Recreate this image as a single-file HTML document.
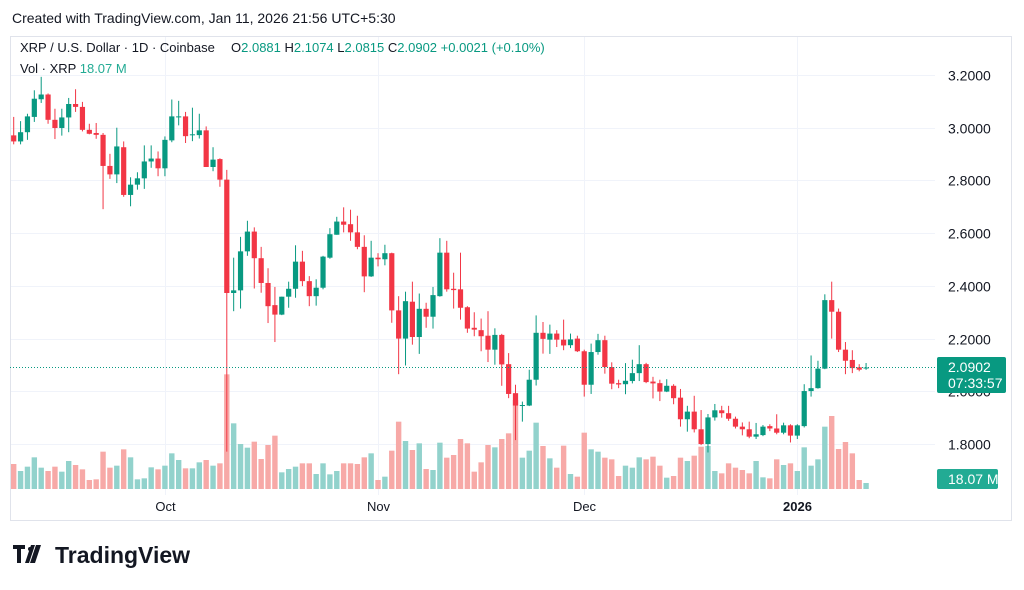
<!DOCTYPE html>
<html><head><meta charset="utf-8"><style>
body{margin:0;background:#fff;width:1024px;height:590px;overflow:hidden;font-family:"Liberation Sans",sans-serif;}
svg{display:block}
</style></head><body>
<svg id="chart" width="1024" height="590" xmlns="http://www.w3.org/2000/svg">
<rect x="0" y="0" width="1024" height="590" fill="#fff"/>
<text x="12" y="23" font-size="14" fill="#131722">Created with TradingView.com, Jan 11, 2026 21:56 UTC+5:30</text>
<rect x="10.5" y="36.5" width="1001" height="484" fill="none" stroke="#e0e3eb"/>
<g id="grid"></g>
<g id="vol"></g>
<g id="candles"></g>
<line x1="10" y1="367.5" x2="935" y2="367.5" stroke="#089981" stroke-dasharray="1,2"/>
<g id="axis"></g>
<g font-size="13">
<text x="20" y="52" fill="#131722">XRP / U.S. Dollar · 1D · Coinbase</text>
<text x="231" y="52" fill="#131722">O<tspan fill="#089981">2.0881</tspan>  H<tspan fill="#089981">2.1074</tspan>  L<tspan fill="#089981">2.0815</tspan>  C<tspan fill="#089981">2.0902</tspan>  <tspan fill="#089981">+0.0021 (+0.10%)</tspan></text>
<text x="20" y="73" fill="#131722">Vol · XRP  <tspan fill="#22ab94">18.07 M</tspan></text>
</g>
<rect x="937" y="357" width="69" height="36" rx="2" fill="#089981"/>
<text x="948" y="372" font-size="14" fill="#fff">2.0902</text>
<text x="948" y="388" font-size="14" fill="#fff">07:33:57</text>
<rect x="937" y="469" width="61" height="20" rx="2" fill="#22ab94"/>
<text x="948" y="484" font-size="14" fill="#fff">18.07 M</text>
<g>
<path d="M13 545h12v4h-4v14h-4v-14h-4z M31 545h4l-6 18h-4z" fill="#131722"/>
<circle cx="30" cy="549" r="2" fill="#131722"/>
<path d="M36 545h5l-6 18h-5z" fill="#131722"/>
<text x="55" y="563" font-size="23" font-weight="bold" fill="#131722">TradingView</text>
</g>
</svg>
<script>
const opens=[2.971,2.948,2.983,3.041,3.108,3.126,3.030,2.999,3.039,3.090,3.079,2.992,2.980,2.973,2.855,2.823,2.926,2.745,2.784,2.808,2.872,2.883,2.846,2.952,3.041,3.043,2.972,2.972,2.990,2.851,2.881,2.803,2.373,2.383,2.531,2.606,2.505,2.411,2.327,2.291,2.359,2.389,2.492,2.418,2.361,2.393,2.507,2.594,2.644,2.634,2.603,2.548,2.436,2.507,2.501,2.524,2.307,2.200,2.340,2.206,2.313,2.283,2.361,2.526,2.389,2.387,2.319,2.241,2.232,2.211,2.158,2.214,2.103,1.993,1.945,1.946,2.044,2.222,2.196,2.219,2.196,2.175,2.200,2.152,2.025,2.149,2.194,2.092,2.031,2.027,2.039,2.069,2.103,2.037,2.031,1.999,2.021,1.976,1.894,1.923,1.856,1.800,1.901,1.928,1.917,1.896,1.866,1.856,1.828,1.834,1.868,1.859,1.843,1.871,1.832,1.868,2.001,2.012,2.086,2.346,2.302,2.158,2.119,2.091,2.0881];
const closes=[2.948,2.983,3.043,3.110,3.126,3.030,2.999,3.039,3.090,3.079,2.992,2.977,2.973,2.855,2.823,2.929,2.745,2.784,2.808,2.872,2.883,2.846,2.954,3.043,3.043,2.968,2.975,2.990,2.851,2.879,2.803,2.373,2.383,2.531,2.606,2.505,2.411,2.323,2.291,2.359,2.389,2.492,2.418,2.361,2.393,2.511,2.596,2.644,2.632,2.603,2.548,2.436,2.507,2.501,2.524,2.307,2.200,2.342,2.206,2.313,2.283,2.365,2.526,2.387,2.384,2.317,2.238,2.234,2.209,2.158,2.214,2.102,1.990,1.946,1.948,2.044,2.222,2.199,2.219,2.196,2.174,2.197,2.152,2.025,2.149,2.194,2.092,2.029,2.026,2.040,2.069,2.103,2.035,2.030,1.999,2.021,1.974,1.894,1.923,1.856,1.800,1.901,1.928,1.917,1.896,1.866,1.856,1.828,1.837,1.866,1.859,1.843,1.871,1.832,1.871,2.001,2.012,2.086,2.346,2.302,2.158,2.116,2.088,2.082,2.0902];
const highs=[3.041,3.025,3.053,3.142,3.193,3.130,3.072,3.072,3.113,3.146,3.098,3.015,3.018,2.980,2.901,3.000,2.948,2.812,2.831,2.933,2.933,2.910,2.967,3.107,3.102,3.060,3.076,3.053,3.005,2.926,2.884,2.840,2.507,2.586,2.647,2.622,2.548,2.467,2.396,2.359,2.416,2.554,2.533,2.437,2.425,2.514,2.619,2.662,2.698,2.689,2.666,2.592,2.571,2.524,2.556,2.526,2.361,2.378,2.416,2.371,2.336,2.396,2.581,2.571,2.450,2.526,2.323,2.300,2.276,2.304,2.239,2.218,2.145,2.025,1.961,2.082,2.288,2.263,2.253,2.232,2.272,2.219,2.211,2.158,2.181,2.218,2.211,2.110,2.044,2.107,2.120,2.175,2.108,2.055,2.044,2.046,2.027,2.009,1.945,1.983,1.929,1.914,1.952,1.945,1.945,1.904,1.882,1.885,1.880,1.872,1.875,1.913,1.881,1.875,1.875,2.027,2.136,2.116,2.368,2.416,2.314,2.187,2.156,2.103,2.1074];
const lows=[2.937,2.937,2.954,3.022,3.094,3.015,2.957,2.970,2.983,3.060,2.986,2.975,2.958,2.691,2.806,2.790,2.738,2.702,2.765,2.768,2.848,2.816,2.816,2.945,3.009,2.942,2.949,2.959,2.851,2.835,2.776,1.771,2.304,2.314,2.514,2.390,2.374,2.259,2.187,2.289,2.317,2.355,2.399,2.323,2.325,2.387,2.503,2.594,2.603,2.571,2.539,2.376,2.434,2.474,2.478,2.260,2.065,2.098,2.177,2.142,2.241,2.238,2.359,2.378,2.314,2.272,2.222,2.209,2.152,2.111,2.101,2.021,1.974,1.815,1.885,1.944,2.022,2.143,2.142,2.168,2.156,2.164,2.149,1.980,1.990,2.139,2.067,2.008,2.012,1.989,2.030,2.039,2.031,1.973,1.963,1.997,1.951,1.866,1.847,1.844,1.796,1.768,1.889,1.900,1.888,1.859,1.833,1.822,1.819,1.830,1.849,1.837,1.837,1.806,1.819,1.863,1.980,2.010,2.084,2.200,2.149,2.065,2.069,2.076,2.0815];
const volumes=[75,54,67,95,64,54,67,52,84,72,59,27,29,112,64,70,119,95,29,32,65,59,70,107,87,62,62,80,87,70,77,344,197,135,124,142,90,132,160,50,60,67,77,77,45,77,44,54,77,77,75,95,107,27,37,115,202,144,117,137,60,57,139,94,102,150,137,52,80,132,125,150,167,267,94,115,199,129,92,64,130,45,37,169,119,112,94,89,39,70,64,95,89,97,70,34,39,94,84,100,127,129,54,47,77,64,57,47,84,35,32,89,72,77,54,125,70,89,187,219,120,141,107,27,18];
const priceTicks=[3.2,3.0,2.8,2.6,2.4,2.2,2.0,1.8];
const timeLabels=["Oct","Nov","Dec","2026"];
const timeLabelIdx=[22,53,83,114];

const NS="http://www.w3.org/2000/svg";
const X0=13.7, STEP=6.874;
function xOf(i){return X0+i*STEP;}
function yOf(p){return 75+(3.2-p)*263.6;}
function vH(v){return v/3;}
const VBASE=489;
function mk(tag,attrs,parent){const e=document.createElementNS(NS,tag);for(const k in attrs)e.setAttribute(k,attrs[k]);parent.appendChild(e);return e;}
const grid=document.getElementById('grid'),vol=document.getElementById('vol'),cg=document.getElementById('candles'),ax=document.getElementById('axis');
priceTicks.forEach(p=>{
  const y=Math.round(yOf(p))+0.5;
  const l=mk('line',{x1:11,x2:935,y1:y,y2:y,stroke:'#f0f3fa'},grid);
  
  
  const t=mk('text',{x:948,y:y+5,'font-size':14,fill:'#131722'},ax);
  t.textContent=p.toFixed(4);
  
  
});
timeLabels.forEach((s,k)=>{
  const x=Math.round(xOf(timeLabelIdx[k]))+0.5;
  const l=mk('line',{x1:x,x2:x,y1:37,y2:495,stroke:'#f0f3fa'},grid);
  
  
  const t=mk('text',{x:x,y:511,'font-size':13,fill:'#131722','text-anchor':'middle','font-weight':s==='2026'?'bold':'normal'},ax);
  t.textContent=s;
  
  
});
for(let i=0;i<opens.length;i++){
  const up=closes[i]>=opens[i];
  const col=up?'#089981':'#f23645';
  const x=xOf(i);
  const h=vH(volumes[i]);
  const vb=mk('rect',{x:x-2.7,y:VBASE-h,width:5.4,height:h,fill:up?'#92d2cc':'#f7a9a7'},vol);
  
  
  const g=mk('g',{},cg);
  
  
  const w=mk('line',{x1:x,x2:x,y1:yOf(highs[i]),y2:yOf(lows[i]),stroke:col,'stroke-width':1},g);
  
  
  const top=yOf(Math.max(opens[i],closes[i])),bot=yOf(Math.min(opens[i],closes[i]));
  const b=mk('rect',{x:x-2.6,y:top,width:5.2,height:Math.max(1,bot-top),fill:col},g);
  
  
}
</script>
</body></html>
